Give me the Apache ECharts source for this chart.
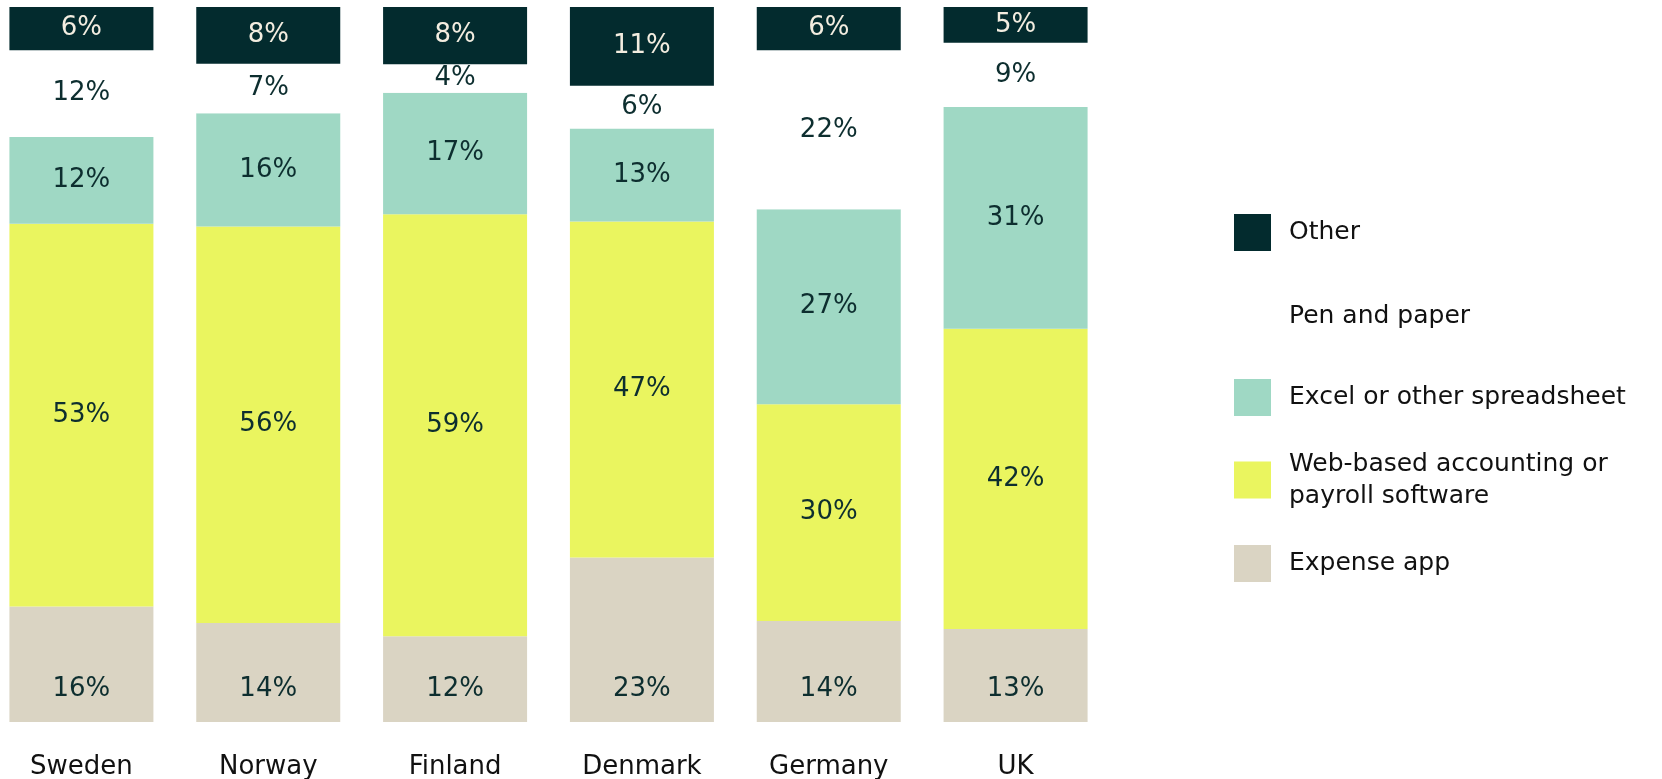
<!DOCTYPE html>
<html>
<head>
<meta charset="utf-8">
<script src="https://cdn.jsdelivr.net/npm/echarts@6/dist/echarts.min.js"></script>
<style>
  html, body { margin: 0; padding: 0; background: #fff; }
  #chart { width: 1662px; height: 779px; }
</style>
</head>
<body>
<div id="chart"></div>
<script>
// 国家 / categories
const countries = ['Sweden', 'Norway', 'Finland', 'Denmark', 'Germany', 'UK']

// 各项占比 (%), same order as countries
const expenseApp = [16, 14, 12, 23, 14, 13]
const webBased = [53, 56, 59, 47, 30, 42]
const spreadsheet = [12, 16, 17, 13, 27, 31]
const penPaper = [12, 7, 4, 6, 22, 9]
const other = [6, 8, 8, 11, 6, 5]

const seriesNames = [
  'Expense app',
  'Web-based accounting or payroll software',
  'Excel or other spreadsheet',
  'Pen and paper',
  'Other'
]
const seriesData = [expenseApp, webBased, spreadsheet, penPaper, other]
const colors = ['#dad4c3', '#eaf55f', '#9fd8c4', '#ffffff', '#032b2e']
const labelColors = ['#0d2e2f', '#0d2e2f', '#0d2e2f', '#0d2e2f', '#f3ede0']

const FONT = '"DejaVu Sans", sans-serif'

// 每列合计，柱子按 100% 堆叠
const totals = countries.map((c, i) => seriesData.reduce((s, arr) => s + arr[i], 0))

const series = seriesData.map((data, k) => ({
  name: seriesNames[k],
  type: 'bar',
  stack: 'total',
  barWidth: 144,
  itemStyle: { color: colors[k] },
  label: {
    show: true,
    // Expense app 标签贴底显示
    position: k === 0 ? 'insideBottom' : 'inside',
    distance: 20,
    fontFamily: FONT,
    fontSize: 26,
    color: labelColors[k],
    formatter: (p) => data[p.dataIndex] + '%'
  },
  emphasis: { disabled: true },
  data: data.map((v, i) => (v / totals[i]) * 100)
}))

// 图例：逐项定位
const legendTops = [214, 298, 379, 448, 545]
const legendOrder = [4, 3, 2, 1, 0]
const legend = legendOrder.map((k, j) => ({
  data: [seriesNames[k]],
  left: 1234,
  top: legendTops[j],
  padding: 0,
  orient: 'vertical',
  icon: 'rect',
  itemWidth: 37,
  itemHeight: 37,
  selectedMode: false,
  formatter: (name) => name === seriesNames[1] ? 'Web-based accounting or\npayroll software' : name,
  textStyle: {
    fontFamily: FONT,
    fontSize: 25,
    lineHeight: 32,
    color: '#111',
    padding: [0, 0, 0, 13]
  }
}))

const myChart = echarts.init(document.getElementById('chart'))
const option = {
  animation: false,
  color: colors,
  legend,
  grid: {
    left: -12,
    width: 1121,
    top: 7,
    bottom: 57,
    containLabel: false,
    outerBoundsMode: 'none'
  },
  xAxis: {
    type: 'category',
    data: countries,
    axisLine: { show: false },
    axisTick: { show: false },
    axisLabel: {
      interval: 0,
      margin: 32,
      fontFamily: FONT,
      fontSize: 26,
      color: '#111'
    }
  },
  yAxis: {
    type: 'value',
    min: 0,
    max: 100,
    show: false
  },
  series
}
myChart.setOption(option)
</script>
</body>
</html>
